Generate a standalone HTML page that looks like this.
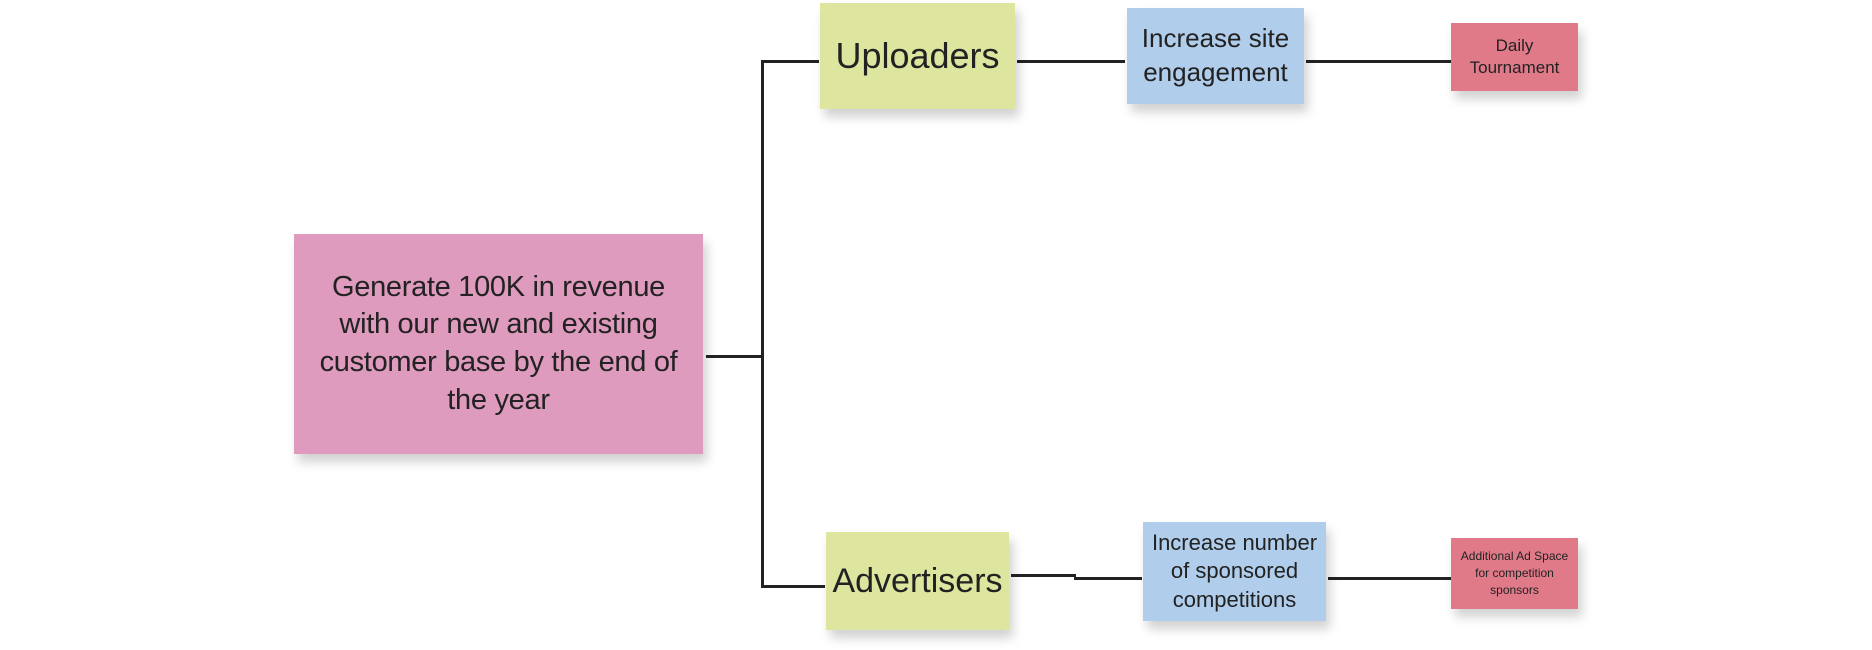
<!DOCTYPE html>
<html><head><style>
body{margin:0;width:1872px;height:650px;background:#fff;position:relative;overflow:hidden;font-family:"Liberation Sans",sans-serif;}
.n{position:absolute;display:flex;align-items:center;justify-content:center;text-align:center;color:#222;box-shadow:4px 8px 10px rgba(0,0,0,0.18);line-height:1.3;}
.l{position:absolute;background:#222;}
</style></head><body>
<div class="l" style="left:706px;top:355px;width:58px;height:3px"></div>
<div class="l" style="left:761px;top:60px;width:3px;height:528px"></div>
<div class="l" style="left:761px;top:60px;width:58px;height:3px"></div>
<div class="l" style="left:761px;top:585px;width:64px;height:3px"></div>
<div class="l" style="left:1017px;top:60px;width:108px;height:3px"></div>
<div class="l" style="left:1306px;top:60px;width:145px;height:3px"></div>
<div class="l" style="left:1011px;top:574px;width:65px;height:3px"></div>
<div class="l" style="left:1074px;top:577px;width:68px;height:3px"></div>
<div class="l" style="left:1328px;top:577px;width:123px;height:3px"></div>

<div class="n" style="left:294px;top:234px;width:409px;height:220px;background:#de9bbd;font-size:29px;padding:0 10px;box-sizing:border-box;letter-spacing:-0.3px">Generate 100K in revenue<br>with our new and existing<br>customer base by the end of<br>the year</div>
<div class="n" style="left:820px;top:3px;width:195px;height:106px;background:#dde59e;font-size:36px">Uploaders</div>
<div class="n" style="left:1127px;top:8px;width:177px;height:96px;background:#b0cdeb;font-size:26px">Increase site engagement</div>
<div class="n" style="left:1451px;top:23px;width:127px;height:68px;background:#e07a89;font-size:17px">Daily<br>Tournament</div>
<div class="n" style="left:826px;top:532px;width:183px;height:98px;background:#dde59e;font-size:34px">Advertisers</div>
<div class="n" style="left:1143px;top:522px;width:183px;height:99px;background:#b0cdeb;font-size:22px">Increase number<br>of sponsored<br>competitions</div>
<div class="n" style="left:1451px;top:538px;width:127px;height:71px;background:#e07a89;font-size:12px;line-height:1.4">Additional Ad Space<br>for competition<br>sponsors</div>
</body></html>
